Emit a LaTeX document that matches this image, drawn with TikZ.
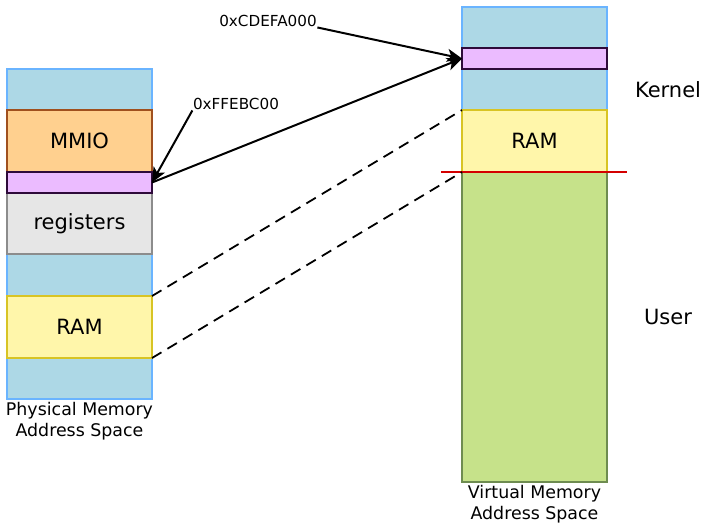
\documentclass[tikz,border=0pt]{standalone}
\usepackage{fontspec}
\setmainfont{DejaVu Sans}
\usepackage{xcolor}
\usetikzlibrary{arrows.meta,positioning}

\definecolor{bgblue}{HTML}{ADD8E6}
\definecolor{bgedge}{HTML}{6AB4FF}
\definecolor{mmiofill}{HTML}{FFD08F}
\definecolor{mmioedge}{HTML}{A0501E}
\definecolor{winfill}{HTML}{EBBBFF}
\definecolor{winedge}{HTML}{2E0A3A}
\definecolor{regfill}{HTML}{E6E6E6}
\definecolor{regedge}{HTML}{8C8C8C}
\definecolor{ramfill}{HTML}{FFF6AA}
\definecolor{ramedge}{HTML}{D8C424}
\definecolor{userfill}{HTML}{C6E28A}
\definecolor{useredge}{HTML}{6E8C50}
\definecolor{splitred}{HTML}{D40000}

\begin{document}
\begin{tikzpicture}[
    x=1pt, y=-1pt,
    region/.style={line width=1.8pt, minimum width=145pt, inner sep=0pt, outer sep=0pt,
      font=\fontsize{21}{24}\selectfont},
    blue/.style={region, fill=bgblue, draw=bgedge},
    caption/.style={align=center, font=\fontsize{17.4}{21}\selectfont},
    side/.style={font=\fontsize{21}{24}\selectfont},
    addr/.style={font=\fontsize{15.2}{17}\selectfont, inner sep=0.5pt},
    arr/.style={-{Stealth[length=15pt, width=13pt, inset=4pt]}, line width=2pt},
    map/.style={dashed, dash pattern=on 11pt off 7pt, line width=1.8pt}
  ]
    \useasboundingbox (0,0) rectangle (704,523);
    % physical side
    \node[blue, minimum height=330pt] (physmem) at (79.5,234) {};
    \node[region, fill=mmiofill, draw=mmioedge, minimum height=62pt] (mmio) at (79.5,141) {MMIO};
    \node[region, fill=regfill, draw=regedge, minimum height=61pt] (regs) at (79.5,223.5) {registers};
    \node[region, fill=winfill, draw=winedge, minimum height=21pt] (physwin) at (79.5,182.5) {};
    \node[region, fill=ramfill, draw=ramedge, minimum height=62pt] (physram) at (79.5,327) {RAM};
    \node[caption, below=0pt of physmem] (physcap) {Physical Memory\\Address Space};
    % virtual side
    \node[blue, minimum height=103pt] (virtmem) at (534.5,58.5) {};
    \node[region, fill=winfill, draw=winedge, minimum height=21pt] (virtwin) at (534.5,58.5) {};
    \node[region, fill=userfill, draw=useredge, minimum height=310pt] (user) at (534.5,327) {};
    \node[region, fill=ramfill, draw=ramedge, minimum height=62pt] (virtram) at (534.5,141) {RAM};
    \node[caption, below=0pt of user] (virtcap) {Virtual Memory\\Address Space};
    \draw[splitred, line width=1.6pt] ([xshift=-21pt]virtram.south west) -- ([xshift=20pt]virtram.south east);
    \node[side] (kernel) at (668,90) {Kernel};
    \node[side] (userlbl) at (668,317) {User};
    % mappings
    \draw[map] (physram.north east) -- (virtram.north west);
    \draw[map] (physram.south east) -- (virtram.south west);
    \node[addr] (vaddr) at (268,21) {0xCDEFA000};
    \node[addr] (paddr) at (236,104) {0xFFEBC00};
    \draw[arr] (vaddr.south east) -- (virtwin.west);
    \draw[arr] (paddr.south west) -- (physwin.east);
    \draw[arr] (physwin.east) -- (virtwin.west);
  \end{tikzpicture}
\end{document}
